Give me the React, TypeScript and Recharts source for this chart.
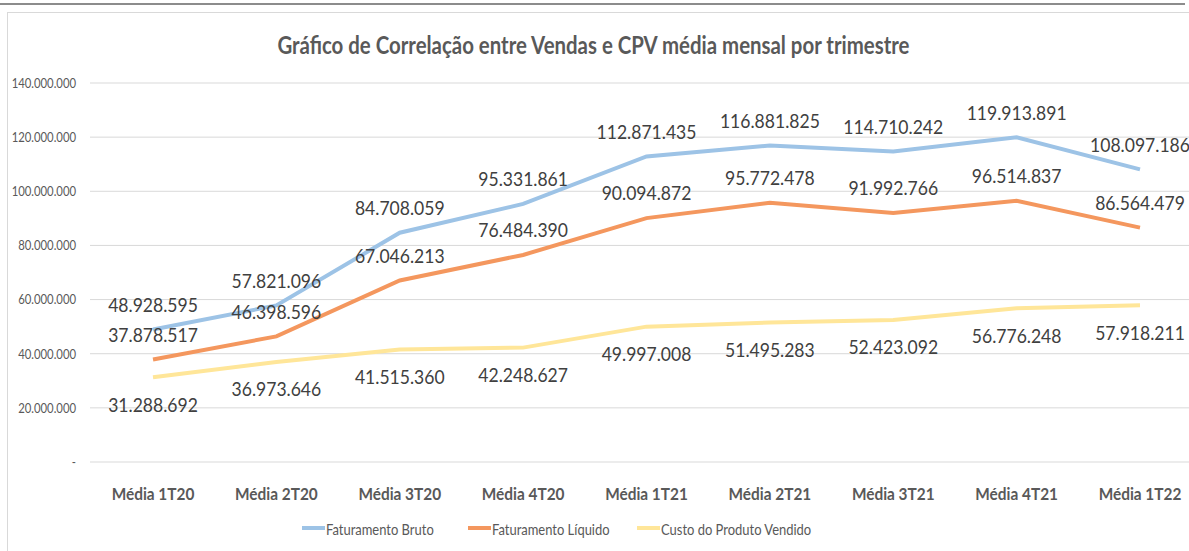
import { LineChart, Line, XAxis, YAxis, CartesianGrid, LabelList, Legend } from 'recharts';

const categories = [
  'Média 1T20', 'Média 2T20', 'Média 3T20', 'Média 4T20', 'Média 1T21',
  'Média 2T21', 'Média 3T21', 'Média 4T21', 'Média 1T22',
];
const faturamentoBruto = [48928595, 57821096, 84708059, 95331861, 112871435, 116881825, 114710242, 119913891, 108097186];
const faturamentoLiquido = [37878517, 46398596, 67046213, 76484390, 90094872, 95772478, 91992766, 96514837, 86564479];
const custoProduto = [31288692, 36973646, 41515360, 42248627, 49997008, 51495283, 52423092, 56776248, 57918211];
const yTicks = [0, 20000000, 40000000, 60000000, 80000000, 100000000, 120000000, 140000000];
const seriesNames = ['Faturamento Bruto', 'Faturamento Líquido', 'Custo do Produto Vendido'];

const colors = ['#9DC3E6', '#F4975E', '#FFE699'];
const legendLeft = [302, 468, 637];
// Calibri look-alike, squeezed a bit horizontally like the source image
const FONT = "Lato, 'Open Sans', sans-serif";

const data = categories.map((name, i) => ({
  name,
  bruto: faturamentoBruto[i],
  liquido: faturamentoLiquido[i],
  custo: custoProduto[i],
}));

const fmt = (v: number) => (v === 0 ? '-' : String(v).replace(/\B(?=(\d{3})+(?!\d))/g, '.'));

// data labels: above the point or below it, like the excel chart
const makeLabel = (dy: number) => (props: any) => {
  const x = props.x ?? props.viewBox?.x;
  const y = props.y ?? props.viewBox?.y;
  if (x == null || y == null) return null;
  return (
    <text transform={`translate(${x},${y + dy}) scale(0.9,1)`} textAnchor="middle" dominantBaseline="central" fontSize={19.5} fill="#404040" fontFamily={FONT}>
      {fmt(Number(props.value))}
    </text>
  );
};

const YTick = (props: any) => (
  <text transform={`translate(${props.x},${props.y}) scale(0.87,1)`} textAnchor="end" dominantBaseline="central" fontSize={13} fill="#595959" fontFamily={FONT}>
    {fmt(Number(props.payload.value))}
  </text>
);

const XTick = (props: any) => (
  <text transform={`translate(${props.x},${props.y}) scale(0.88,1)`} textAnchor="middle" dominantBaseline="central" fontSize={17.5} fontWeight="bold" fill="#595959" fontFamily={FONT}>
    {props.payload.value}
  </text>
);

const renderLegend = () => (
  <div style={{ position: 'relative', width: '100%', height: 26, fontFamily: FONT, fontSize: 16, color: '#595959' }}>
    {seriesNames.map((n, i) => (
      <div key={n} style={{ position: 'absolute', left: legendLeft[i], top: 0, height: 26, display: 'flex', alignItems: 'center', whiteSpace: 'nowrap' }}>
        <span style={{ display: 'inline-block', width: 23, height: 4, background: colors[i], marginRight: 1 }} />
        <span style={{ display: 'inline-block', transform: 'scaleX(0.81)', transformOrigin: 'left center' }}>{n}</span>
      </div>
    ))}
  </div>
);

export default function App() {
  return (
    <div style={{ position: 'absolute', left: 0, top: 0, width: 1189, height: 551, overflow: 'hidden', background: '#fff' }}>
      <div style={{ position: 'absolute', left: 0, top: 3, width: 1185, height: 2, background: '#8c8c8c' }} />
      <div style={{ position: 'absolute', left: 7, top: 12, width: 1200, height: 560, borderLeft: '1px solid #d9d9d9', borderTop: '1px solid #d9d9d9' }} />
      <div style={{ position: 'absolute', left: 0, top: 30, width: 1187, textAlign: 'center', fontFamily: FONT, fontWeight: 'bold', fontSize: 24, lineHeight: '30px', color: '#595959', whiteSpace: 'nowrap', transform: 'scaleX(0.85)', transformOrigin: '593px 50%' }}>
        Gráfico de Correlação entre Vendas e CPV média mensal por trimestre
      </div>
      <div style={{ position: 'absolute', left: 0, top: 0 }}>
        <LineChart width={1201} height={551} data={data} margin={{ top: 83, right: 0, bottom: 59, left: 0 }}>
          <CartesianGrid vertical={false} stroke="#D9D9D9" />
          <XAxis
            dataKey="name"
            axisLine={false}
            tickLine={false}
            tickSize={0}
            tickMargin={32}
            height={30}
            interval={0}
            padding={{ left: 63, right: 61 }}
            tick={<XTick />}
          />
          <YAxis
            domain={[0, 140000000]}
            ticks={yTicks}
            axisLine={false}
            tickLine={false}
            tickSize={0}
            tickMargin={14}
            width={90}
            tick={<YTick />}
          />
          <Legend verticalAlign="middle" align="center" layout="horizontal" wrapperStyle={{ top: 515, left: 0, width: 1189, height: 26 }} content={renderLegend} />
          <Line type="linear" dataKey="bruto" name={seriesNames[0]} stroke={colors[0]} strokeWidth={4} dot={false} isAnimationActive={false}>
            <LabelList dataKey="bruto" content={makeLabel(-25)} />
          </Line>
          <Line type="linear" dataKey="liquido" name={seriesNames[1]} stroke={colors[1]} strokeWidth={4} dot={false} isAnimationActive={false}>
            <LabelList dataKey="liquido" content={makeLabel(-25)} />
          </Line>
          <Line type="linear" dataKey="custo" name={seriesNames[2]} stroke={colors[2]} strokeWidth={4} dot={false} isAnimationActive={false}>
            <LabelList dataKey="custo" content={makeLabel(27)} />
          </Line>
        </LineChart>
      </div>
    </div>
  );
}
